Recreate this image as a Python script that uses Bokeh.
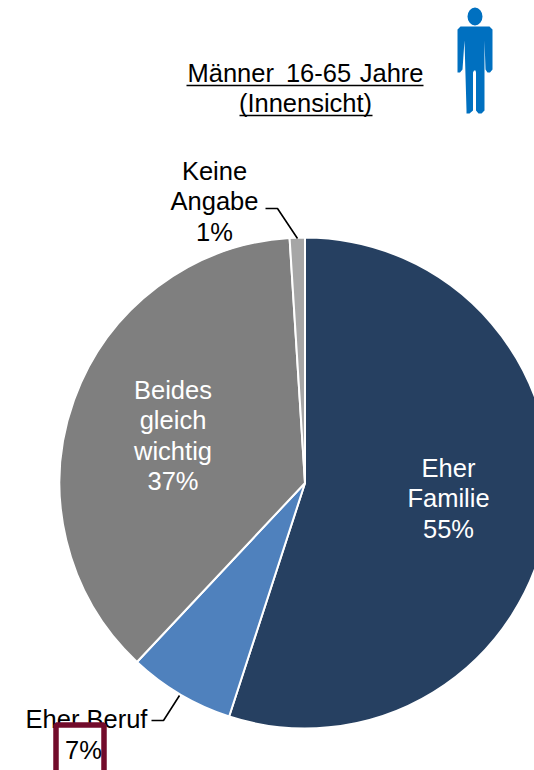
import numpy as np
from bokeh.plotting import figure
from bokeh.models import Range1d
from bokeh.embed import file_html
from bokeh.resources import INLINE
from bokeh.core.properties import value

# ---- data ----
categories = ["Eher Familie", "Eher Beruf", "Beides gleich wichtig", "Keine Angabe"]
shares = [55, 7, 37, 1]
colors = ["#264061", "#4f81bd", "#7f7f7f", "#a6a6a6"]
title_words = ["Männer", "16-65", "Jahre"]
title_line2 = "(Innensicht)"

W, H = 534, 770
FONT = "Liberation Sans"
SIZE = "25.5px"
LINE = 30.5

def Y(py):
    return 770 - py

p = figure(width=W, height=H, output_backend="svg", toolbar_location=None,
           x_range=Range1d(0, W), y_range=Range1d(0, H),
           min_border=0, outline_line_color=None, background_fill_color="white")
p.axis.visible = False
p.grid.visible = False

# pie, clockwise from 12 o'clock
cx, cy, r = 304.5, 482.5, 245.5
cum = np.cumsum([0] + shares) / sum(shares) * 2 * np.pi
starts = [np.pi / 2 - c for c in cum[:-1]]
ends = [np.pi / 2 - c for c in cum[1:]]
p.wedge(x=[cx] * 4, y=[Y(cy)] * 4, radius=r, start_angle=starts, end_angle=ends,
        direction="clock", fill_color=colors, line_color="white", line_width=2)

def txt(x, py, s, color="black", align="center"):
    p.text(x=[x], y=[Y(py)], text=[s], text_font=value(FONT), text_font_size=value(SIZE),
           text_color=color, text_align=align, text_baseline="middle")

def block(x, py, lines, color="black"):
    for i, s in enumerate(lines):
        txt(x, py + i * LINE, s, color)

block(448, 467, ["Eher", "Familie", "55%"], "white")
block(172.5, 389, ["Beides", "gleich", "wichtig", "37%"], "white")
block(214, 170, ["Keine", "Angabe", "1%"])

# leaders
p.line([265, 277, 297], [Y(208), Y(208), Y(238)], line_color="black", line_width=1.6)
p.line([151, 163, 179], [Y(720), Y(720), Y(695)], line_color="black", line_width=1.6)

# Eher Beruf + box
txt(86, 718, "Eher Beruf")
p.quad(left=[55.5], right=[103.5], top=[Y(724.5)], bottom=[Y(775)], fill_color="white",
       line_color="#720b2b", line_width=5.5)
txt(83, 749, "7%")

# title
txt(187, 72.5, title_words[0], align="left")
txt(318, 72.5, title_words[1])
txt(423, 72.5, title_words[2], align="right")
txt(305, 102.5, title_line2)
p.line([186, 423], [Y(85), Y(85)], line_color="black", line_width=1.5)
p.line([239, 372], [Y(115), Y(115)], line_color="black", line_width=1.5)

# person icon
icon = "#0070c0"
p.ellipse(x=[474.5], y=[Y(16)], width=15, height=18, fill_color=icon, line_color=None)
bx = [460, 489, 492, 492, 489.5, 487, 485, 484, 484, 481, 478, 475.5, 475.5, 475, 473.5, 472.5, 472.5, 469, 466, 466, 464, 462, 459.5, 457, 457]
by = [26, 26, 29, 69, 72, 72, 69, 40, 110, 113, 113, 110, 72, 70, 70, 72, 110, 113, 113, 110, 40, 69, 72, 72, 29]
p.patch(bx, [Y(v) for v in by], fill_color=icon, line_color=None)

open("out.html", "w").write(file_html(p, INLINE))
